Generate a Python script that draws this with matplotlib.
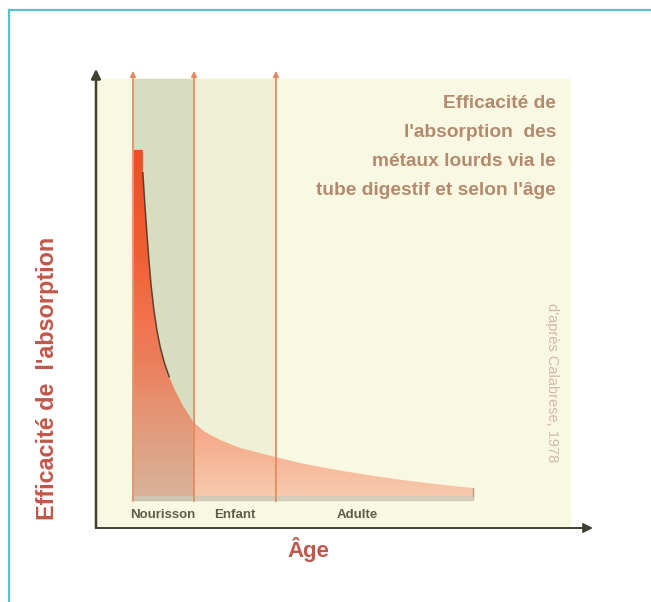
import numpy as np
import matplotlib.pyplot as plt
from matplotlib.patches import Rectangle
from matplotlib.lines import Line2D

# curve (age in arbitrary units, efficiency in %)
age = [0.3, 2.9, 2.9, 3.4, 4.0, 4.6, 5.3, 6.1, 7.0, 8.0, 9.2, 10.6, 12.3, 14.5,
       17.9, 21.1, 25.5, 31.4, 41.6, 50.0, 59.8, 70.0, 79.2, 90.0, 99.7]
absorption = [100, 100, 93.4, 85.5, 77, 69, 61, 54, 48, 43, 38.5, 34.5, 30.6,
              26.3, 21.1, 18.5, 16.2, 13.9, 11.3, 9.3, 7.5, 5.9, 4.6, 3.3, 2.3]

periods = ["Nourisson", "Enfant", "Adulte"]
bounds = [0, 17.9, 41.9]
label_x = [8.7, 29.9, 65.7]

title_lines = ["Efficacité de", "l'absorption  des", "métaux lourds via le",
               "tube digestif et selon l'âge"]

font = "Liberation Sans"

fig = plt.figure(figsize=(6.51, 6.02), dpi=100, facecolor="white")
ax = fig.add_axes([96 / 651, 74 / 602, 504 / 651, 466 / 602])
ax.set_xlim(-10.85, 136.95)
ax.set_ylim(-9.25, 125.4)
ax.axis("off")

# background panel and age regions
ax.add_patch(Rectangle((-10.85, -9.25), 139.05, 129.75, color="#f9f8e3", zorder=0))
ax.add_patch(Rectangle((bounds[0], -1.2), bounds[1] - bounds[0], 121.7,
                       color="#d9ddc0", zorder=1))
ax.add_patch(Rectangle((bounds[1], -1.2), bounds[2] - bounds[1], 121.7,
                       color="#eef1d6", zorder=1))

# shadow under the curve
ax.add_patch(Rectangle((0.3, -1.3), 99.4, 1.3, color="#c9bfae", alpha=0.7, zorder=2))

# gradient fill under the curve
poly = ax.fill_between(age, 0, absorption, facecolor="none", edgecolor="none", zorder=3)
ny, nx = 300, 400
yy = np.linspace(0, 100, ny)[:, None] * np.ones((1, nx))
xx = np.ones((ny, 1)) * np.linspace(0, 100, nx)[None, :]
stops = [0, 20, 40, 70, 100]
rgb = np.zeros((ny, nx, 4))
rgb[..., 0] = np.interp(yy, stops, [0.97, 0.96, 0.95, 0.94, 0.93])
rgb[..., 1] = np.interp(yy, stops, [0.79, 0.65, 0.50, 0.37, 0.31])
rgb[..., 2] = np.interp(yy, stops, [0.68, 0.52, 0.36, 0.20, 0.14])
# the infant band darkens the lower part of the fill
shade = np.where(xx < bounds[1], np.interp(yy, [0, 50], [0.12, 0.0]), 0.0)
rgb[..., :3] *= (1 - shade)[..., None]
rgb[..., 3] = 1.0
rgb = np.clip(rgb, 0, 1)
im = ax.imshow(rgb, extent=[0, 100, 0, 100], origin="lower", aspect="auto",
               interpolation="bilinear", zorder=3)
im.set_clip_path(poly.get_paths()[0], transform=ax.transData)
ax.plot(age[2:12], absorption[2:12], color="#3b2a20", lw=1.1, alpha=0.8, zorder=4)
ax.plot([99.7, 99.7], [0, 2.3], color="#b89888", lw=1, zorder=4)

# vertical period lines with small arrow heads
for b in bounds:
    ax.annotate("", xy=(b, 122.8), xytext=(b, -1.5),
                arrowprops=dict(arrowstyle="-|>", color="#e2895c", lw=1.2,
                                mutation_scale=8, shrinkA=0, shrinkB=0),
                zorder=5, annotation_clip=False)

for name, lx in zip(periods, label_x):
    ax.text(lx, -5.6, name, ha="center", va="center", fontsize=9.5,
            fontweight="bold", family=font, color="#5d5d4a", zorder=6)

# axes arrows
ax.annotate("", xy=(-10.85, 123.4), xytext=(-10.85, -9.25),
            arrowprops=dict(arrowstyle="-|>", color="#3f4233", lw=1.8,
                            mutation_scale=14, shrinkA=0, shrinkB=0),
            zorder=6, annotation_clip=False)
ax.annotate("", xy=(134.9, -9.25), xytext=(-10.85, -9.25),
            arrowprops=dict(arrowstyle="-|>", color="#3f4233", lw=1.4,
                            mutation_scale=14, shrinkA=0, shrinkB=0),
            zorder=6, annotation_clip=False)

# texts
for i, line in enumerate(title_lines):
    fig.text(556 / 651, 1 - (104 + 28.7 * i) / 602, line, ha="right", va="center",
             fontsize=13.8, fontweight="bold", family=font, color="#b48a6e")

fig.text(48 / 651, 1 - 378 / 602, "Efficacité de  l'absorption", rotation=90,
         ha="center", va="center", fontsize=16.8, fontweight="bold", family=font,
         color="#c0574a")
fig.text(308 / 651, 1 - 550 / 602, "Âge", ha="center", va="center", fontsize=16,
         fontweight="bold", family=font, color="#c0574a")
fig.text(552 / 651, 1 - 383 / 602, "d'après Calabrese, 1978", rotation=-90,
         ha="center", va="center", fontsize=10.5, family=font, color="#d2b8a8")

# teal frame on the left and top
fig.add_artist(Line2D([9 / 651, 9 / 651], [0, 1 - 10 / 602], color="#5cc0cc", lw=1.6))
fig.add_artist(Line2D([9 / 651, 1], [1 - 10 / 602, 1 - 10 / 602], color="#5cc0cc", lw=1.6))

fig.savefig("out.png", dpi=100, facecolor="white")
